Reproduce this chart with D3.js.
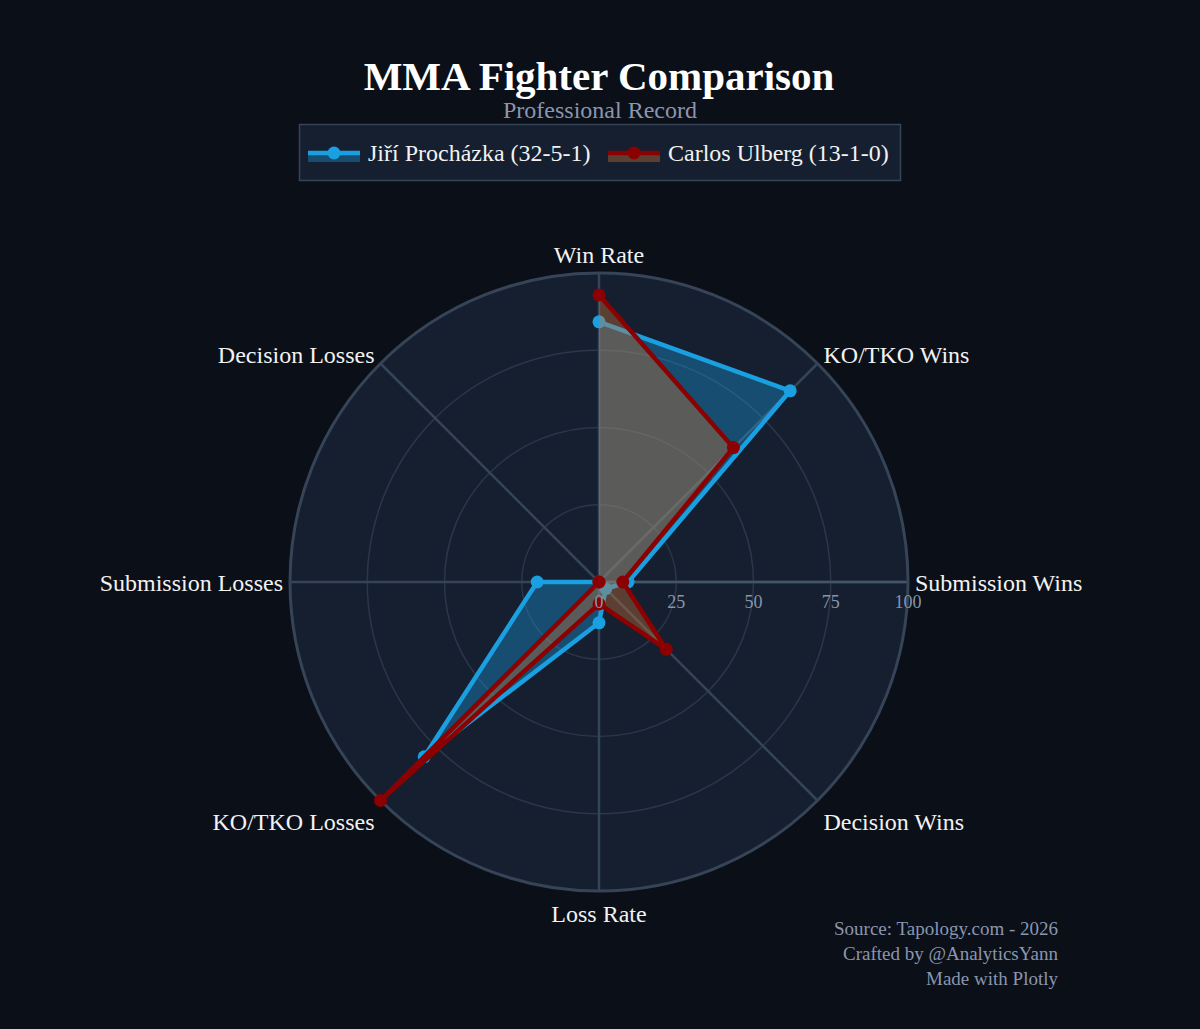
<!DOCTYPE html>
<html>
<head>
<meta charset="utf-8">
<script src="https://cdn.jsdelivr.net/npm/d3@7"></script>
<style>
  body { margin: 0; background: #0b0f18; }
  svg { display: block; font-family: "Liberation Serif", "Times New Roman", serif; }
</style>
</head>
<body>
<svg id="chart"></svg>
<script>
// data
const categories = ["Win Rate", "KO/TKO Wins", "Submission Wins", "Decision Wins",
  "Loss Rate", "KO/TKO Losses", "Submission Losses", "Decision Losses"];
const jiriValues = [84.2, 87.5, 9.4, 3.1, 13.2, 80, 20, 0];
const carlosValues = [92.9, 61.5, 7.7, 30.8, 7.1, 100, 0, 0];
const seriesNames = ["Jiří Procházka (32-5-1)", "Carlos Ulberg (13-1-0)"];
const radialTicks = [0, 25, 50, 75, 100];
const footerLines = ["Source: Tapology.com - 2026", "Crafted by @AnalyticsYann", "Made with Plotly"];

const width = 1200, height = 1029;
const cx = 599, cy = 582, outerR = 309;

const svg = d3.select("#chart").attr("width", width).attr("height", height);
svg.append("rect").attr("width", width).attr("height", height).attr("fill", "#0b0f18");

const rScale = d3.scaleLinear().domain([0, 100]).range([0, outerR]);
const angle = d3.scalePoint().domain(categories).range([0, 2 * Math.PI * 7 / 8]);

const series = [
  { name: seriesNames[0], values: jiriValues, line: "#1a9fe0", fill: "rgba(26,163,232,0.35)" },
  { name: seriesNames[1], values: carlosValues, line: "#8b0000", fill: "rgba(205,115,55,0.38)" },
];

const g = svg.append("g").attr("transform", `translate(${cx},${cy})`);

// polar background
g.append("circle").attr("r", outerR).attr("fill", "#151f30");

// grid circles
g.selectAll("circle.grid")
  .data(radialTicks.filter(t => t > 0 && t < 100))
  .join("circle")
  .attr("class", "grid")
  .attr("r", d => rScale(d))
  .attr("fill", "none")
  .attr("stroke", "#2b3749")
  .attr("stroke-width", 1.5);

// spokes
const pt = (a, r) => [Math.sin(a) * r, -Math.cos(a) * r];
g.selectAll("line.spoke")
  .data(categories)
  .join("line")
  .attr("class", "spoke")
  .attr("x1", 0).attr("y1", 0)
  .attr("x2", d => pt(angle(d), outerR)[0])
  .attr("y2", d => pt(angle(d), outerR)[1])
  .attr("stroke", "#364457")
  .attr("stroke-width", 2.5);

// radial axis line (towards Submission Wins)
g.append("line")
  .attr("x1", 0).attr("y1", 0).attr("x2", outerR).attr("y2", 0)
  .attr("stroke", "#46546a").attr("stroke-width", 2.5);

// outer circle
g.append("circle").attr("r", outerR).attr("fill", "none")
  .attr("stroke", "#364457").attr("stroke-width", 3);

// series: fill (closed), then open line + markers, trace by trace
const radarFill = d3.lineRadial()
  .angle((d, i) => angle(categories[i]))
  .radius(d => rScale(d))
  .curve(d3.curveLinearClosed);
const radarLine = d3.lineRadial()
  .angle((d, i) => angle(categories[i]))
  .radius(d => rScale(d));

series.forEach(s => {
  g.append("path")
    .attr("d", radarFill(s.values))
    .attr("fill", s.fill)
    .attr("stroke", "none");
  g.append("path")
    .attr("d", radarLine(s.values))
    .attr("fill", "none")
    .attr("stroke", s.line)
    .attr("stroke-width", 4.5)
    .attr("stroke-linejoin", "round");
  g.selectAll(null)
    .data(s.values)
    .join("circle")
    .attr("cx", (d, i) => pt(angle(categories[i]), rScale(d))[0])
    .attr("cy", (d, i) => pt(angle(categories[i]), rScale(d))[1])
    .attr("r", 6.5)
    .attr("fill", s.line);
});

// radial tick labels
g.selectAll("text.rtick")
  .data(radialTicks)
  .join("text")
  .attr("class", "rtick")
  .attr("x", d => rScale(d))
  .attr("y", 26)
  .attr("text-anchor", "middle")
  .attr("fill", "#8794aa")
  .attr("font-size", 18)
  .text(d => d);

// category labels
g.selectAll("text.cat")
  .data(categories)
  .join("text")
  .attr("class", "cat")
  .each(function (d) {
    const a = angle(d);
    const sx = Math.sin(a), cyy = -Math.cos(a);
    let x, y, anchor;
    if (Math.abs(sx) < 0.01) {
      x = 0; y = cyy * (outerR + (cyy < 0 ? 18 : 23)); anchor = "middle";
    } else if (Math.abs(cyy) < 0.01) {
      x = sx * (outerR + 7); y = 1; anchor = sx > 0 ? "start" : "end";
    } else {
      x = sx * outerR + (sx > 0 ? 6 : -6);
      y = cyy * outerR + (cyy < 0 ? -9 : 21);
      anchor = sx > 0 ? "start" : "end";
    }
    d3.select(this)
      .attr("x", x).attr("y", y)
      .attr("dy", "0.35em")
      .attr("text-anchor", anchor);
  })
  .attr("fill", "#f2f2f2")
  .attr("font-size", 24)
  .text(d => d);

// title
svg.append("text")
  .attr("x", 599).attr("y", 90)
  .attr("text-anchor", "middle")
  .attr("fill", "#ffffff")
  .attr("font-size", 41)
  .attr("font-weight", "bold")
  .text("MMA Fighter Comparison");
svg.append("text")
  .attr("x", 600).attr("y", 118)
  .attr("text-anchor", "middle")
  .attr("fill", "#8a96ae")
  .attr("font-size", 24)
  .text("Professional Record");

// legend
const legend = svg.append("g");
legend.append("rect")
  .attr("x", 299.5).attr("y", 124.5).attr("width", 601).attr("height", 56)
  .attr("fill", "#151f30").attr("stroke", "#364457").attr("stroke-width", 1.5);
const legendX = [308, 608];
series.forEach((s, i) => {
  const lg = legend.append("g").attr("transform", `translate(${legendX[i]},153)`);
  lg.append("rect").attr("x", 0).attr("y", 0).attr("width", 52).attr("height", 9)
    .attr("fill", s.fill);
  lg.append("line").attr("x1", 0).attr("x2", 52).attr("y1", 0).attr("y2", 0)
    .attr("stroke", s.line).attr("stroke-width", 4.5);
  lg.append("circle").attr("cx", 26).attr("cy", 0).attr("r", 6.5).attr("fill", s.line);
  lg.append("text").attr("x", 60).attr("y", 0).attr("dy", "0.35em")
    .attr("fill", "#f2f2f2").attr("font-size", 24).text(s.name);
});

// footer
svg.selectAll("text.footer")
  .data(footerLines)
  .join("text")
  .attr("class", "footer")
  .attr("x", 1058)
  .attr("y", (d, i) => 935 + i * 25)
  .attr("text-anchor", "end")
  .attr("fill", "#8a96ae")
  .attr("font-size", 19)
  .text(d => d);
</script>
</body>
</html>
